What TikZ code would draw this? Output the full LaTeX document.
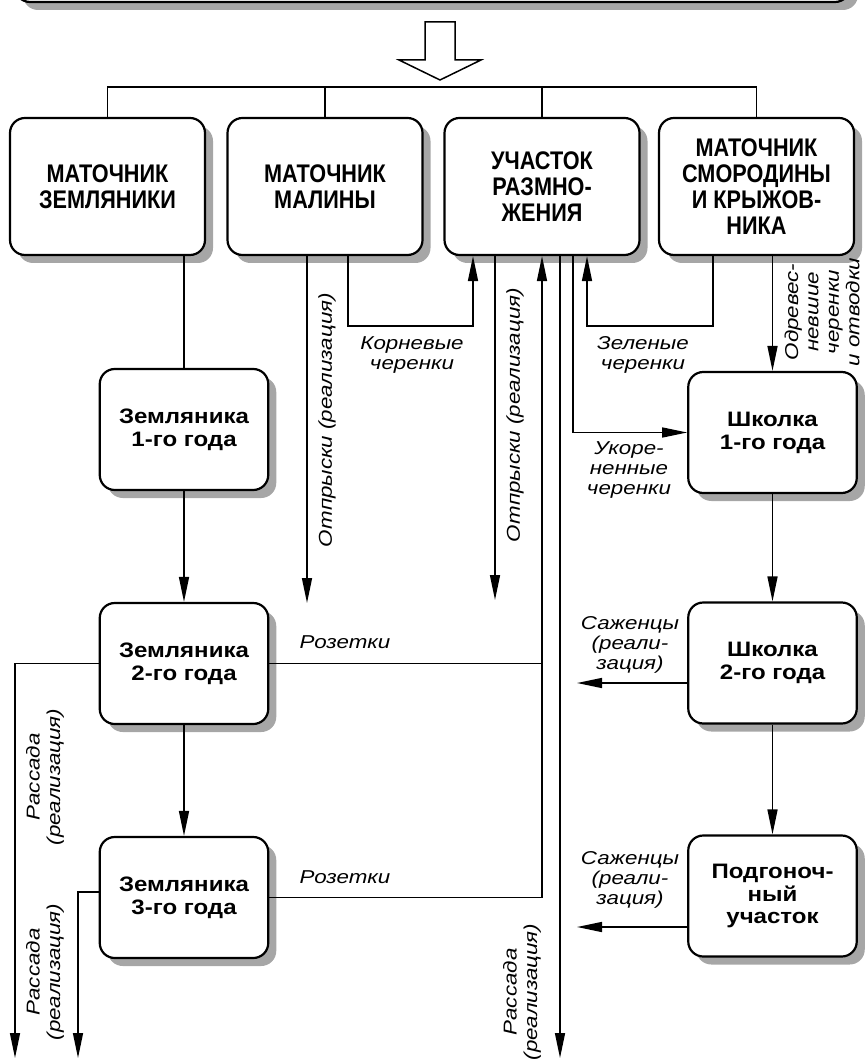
\documentclass[tikz,border=0pt]{standalone}
\usepackage{fontspec}
\setmainfont{Liberation Sans}
\newfontfamily\widefont[FakeStretch=1.15]{Liberation Sans}
\newfontfamily\labelfont[FakeStretch=1.2]{Liberation Sans}
\newfontfamily\narrowfont[FakeStretch=0.85]{Liberation Sans}
\usetikzlibrary{positioning,arrows.meta,shadows}

\begin{document}
\begin{tikzpicture}[
    line width=0.85pt,
    >={Triangle[length=0.5cm,width=0.2cm]},
    shadowed/.style={rectangle, rounded corners=0.3cm, draw, line width=1.25pt, fill=white,
        drop shadow={shadow xshift=0.16cm, shadow yshift=-0.16cm, fill=black!35, opacity=1}},
    bigbox/.style={shadowed, minimum width=3.9cm, minimum height=2.74cm, align=center,
        font=\narrowfont\bfseries\fontsize{14.5}{14.8}\selectfont},
    box/.style={shadowed, minimum width=3.37cm, minimum height=2.42cm, align=center,
        font=\widefont\bfseries\fontsize{11.9}{13}\selectfont},
    lbl/.style={align=center, inner sep=0pt, font=\labelfont\itshape\fontsize{10.6}{11.6}\selectfont},
]
\useasboundingbox (0,0) rectangle (17.28,-21.2);

% Header (cut by the top edge)
\begin{scope}
\clip (0,0) rectangle (17.28,-21.2);
\node[shadowed, minimum width=16.7cm, minimum height=2cm] (head) at (8.65,0.96) {};
\end{scope}
\draw[fill=white] (8.5,-0.44) -- (9.1,-0.44) -- (9.1,-1.2) -- (9.62,-1.2) -- (8.8,-1.6)
    -- (7.98,-1.2) -- (8.5,-1.2) -- cycle;

% Top row
\node[bigbox] (m1) at (2.15,-3.73) {МАТОЧНИК\\ЗЕМЛЯНИКИ};
\node[bigbox] (m2) at (6.5,-3.73) {МАТОЧНИК\\МАЛИНЫ};
\node[bigbox] (m3) at (10.84,-3.73) {УЧАСТОК\\РАЗМНО-\\ЖЕНИЯ};
\node[bigbox] (m4) at (15.13,-3.73) {МАТОЧНИК\\СМОРОДИНЫ\\И КРЫЖОВ-\\НИКА};

% Strawberry column
\node[box] (z1) at (3.68,-8.59) {Земляника\\1-го года};
\node[box] (z2) at (3.68,-13.27) {Земляника\\2-го года};
\node[box] (z3) at (3.68,-17.95) {Земляника\\3-го года};

% Nursery column
\node[box] (sh1) at (15.45,-8.65) {Школка\\1-го года};
\node[box] (sh2) at (15.45,-13.26) {Школка\\2-го года};
\node[box] (pod) at (15.45,-17.92) {Подгоноч-\\ный\\участок};

% Free ends and corners
\coordinate (bus) at (8.8,-1.74);
\coordinate (kor) at (6.96,-6.52);
\coordinate (kor2) at (9.46,-6.52);
\coordinate (zel) at (14.26,-6.52);
\coordinate (zel2) at (11.74,-6.52);
\coordinate (uk) at (11.46,-8.65);
\coordinate (otp1) at (6.14,-12.06);
\coordinate (otp2) at (9.9,-12.0);
\coordinate (ras1) at (0.3,-21.16);
\coordinate (ras2) at (1.56,-21.16);
\coordinate (ras3) at (11.2,-21.16);
\coordinate (saz1) at (11.54,-13.66);
\coordinate (saz2) at (11.54,-18.54);

% Bus
\draw (m1.north) -- (m1.north |- bus) -- (m4.north |- bus) -- (m4.north);
\foreach \n in {m2,m3}
    \draw (\n.north) -- (\n.north |- bus);

% Connections
\draw (m1.south -| z1.north) -- (z1.north);
\draw[->] (z1) -- (z2);
\draw[->] (z2) -- (z3);
\draw[->] (sh1) -- (sh2);
\draw[->] (sh2) -- (pod);

\draw[->] (m2.south -| otp1) -- (otp1);
\draw[->] (m3.south -| otp2) -- (otp2);
\draw[->] (m2.south -| kor) -- (kor) -- (kor2) -- (m3.south -| kor2);
\draw[->] (m4.south -| zel) -- (zel) -- (zel2) -- (m3.south -| zel2);
\draw[->] (m3.south -| uk) -- (uk) -- (sh1.west);
\draw[->] (m4.south -| sh1.north) -- (sh1.north);
\draw[->] (m3.south -| ras3) -- (ras3);

\draw (z2.east) -- (z2.east -| m3.south);
\draw[->] (z3.east) -- (z3.east -| m3.south) -- (m3.south);
\draw[->] (z2.west) -| (ras1);
\draw[->] ([yshift=0.11cm]z3.west) -| (ras2);
\draw[->] (sh2.west |- saz1) -- (saz1);
\draw[->] (pod.west |- saz2) -- (saz2);

% Labels
\node[lbl, rotate=90] (lotp1) at (6.54,-8.4) {Отпрыски (реализация)};
\node[lbl, rotate=90] (lotp2) at (10.3,-8.3) {Отпрыски (реализация)};
\node[lbl] (lkor) at (8.24,-7.1) {Корневые\\черенки};
\node[lbl] (lzel) at (12.86,-7.1) {Зеленые\\черенки};
\node[lbl] (luk) at (12.58,-9.4) {Укоре-\\ненные\\черенки};
\node[lbl, rotate=90] (lodr) at (16.44,-6.24) {Одревес-\\невшие\\черенки\\и отводки};
\node[lbl] (lsaz1) at (12.6,-12.9) {Саженцы\\(реали-\\зация)};
\node[lbl] (lsaz2) at (12.6,-17.6) {Саженцы\\(реали-\\зация)};
\node[lbl] (lroz1) at (6.9,-12.84) {Розетки};
\node[lbl] (lroz2) at (6.9,-17.54) {Розетки};
\node[lbl, rotate=90] (lras1) at (0.9,-15.54) {Рассада\\(реализация)};
\node[lbl, rotate=90] (lras2) at (0.9,-19.44) {Рассада\\(реализация)};
\node[lbl, rotate=90] (lras3) at (10.44,-19.84) {Рассада\\(реализация)};

\end{tikzpicture}
\end{document}
